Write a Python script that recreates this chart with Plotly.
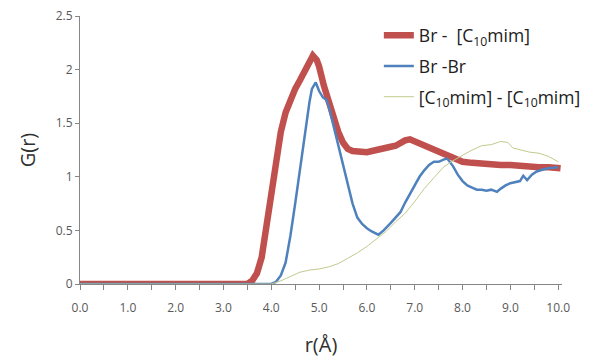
import plotly.graph_objects as go

# Br - [C10mim]
r_red = [0.0, 3.5, 3.6, 3.7, 3.8, 3.9, 4.0, 4.1, 4.2, 4.3, 4.4, 4.5, 4.6, 4.7, 4.8, 4.87,
         4.95, 5.0, 5.1, 5.2, 5.3, 5.4, 5.5, 5.6, 5.7, 5.8, 6.0, 6.2, 6.4, 6.5, 6.6, 6.7,
         6.8, 6.9, 7.0, 7.1, 7.2, 7.4, 7.6, 7.8, 8.0, 8.2, 8.4, 8.6, 8.8, 9.0, 9.2, 9.4,
         9.6, 9.8, 10.0, 10.05]
g_red = [0, 0, 0.03, 0.1, 0.25, 0.55, 0.92, 1.2, 1.42, 1.6, 1.72, 1.82, 1.9, 1.98, 2.07, 2.13,
         2.09, 2.03, 1.85, 1.7, 1.55, 1.42, 1.32, 1.26, 1.24, 1.24, 1.23, 1.25, 1.26, 1.28, 1.29, 1.32,
         1.34, 1.35, 1.33, 1.31, 1.29, 1.25, 1.21, 1.17, 1.14, 1.13, 1.12, 1.12, 1.11, 1.11, 1.10, 1.10,
         1.09, 1.09, 1.08, 1.08]

# Br - Br
r_blue = [0.0, 4.0, 4.1, 4.2, 4.3, 4.4, 4.5, 4.6, 4.7, 4.8, 4.85, 4.93, 5.0, 5.08, 5.15, 5.2,
          5.3, 5.4, 5.5, 5.6, 5.7, 5.8, 5.9, 6.0, 6.1, 6.24, 6.35, 6.5, 6.6, 6.7, 6.8, 6.9,
          7.0, 7.1, 7.2, 7.3, 7.4, 7.5, 7.6, 7.68, 7.8, 7.9, 8.0, 8.1, 8.2, 8.3, 8.4, 8.5,
          8.6, 8.72, 8.8, 8.9, 9.0, 9.1, 9.2, 9.27, 9.35, 9.45, 9.55, 9.7, 9.8, 10.0]
g_blue = [0, 0, 0.02, 0.08, 0.2, 0.45, 0.75, 1.08, 1.4, 1.7, 1.82, 1.88, 1.8, 1.74, 1.72, 1.66,
          1.48, 1.3, 1.12, 0.95, 0.75, 0.62, 0.56, 0.52, 0.49, 0.46, 0.5, 0.57, 0.62, 0.67, 0.76, 0.84,
          0.92, 1.0, 1.06, 1.11, 1.14, 1.14, 1.16, 1.17, 1.1, 1.02, 0.96, 0.92, 0.9, 0.88, 0.88, 0.87,
          0.88, 0.86, 0.89, 0.92, 0.94, 0.95, 0.96, 1.01, 0.97, 1.02, 1.05, 1.07, 1.08, 1.09]

# [C10mim] - [C10mim]
r_olive = [0.0, 4.0, 4.2, 4.4, 4.6, 4.8, 5.0, 5.2, 5.4, 5.6, 5.8, 6.0, 6.2, 6.4, 6.6, 6.8,
           7.0, 7.2, 7.4, 7.6, 7.8, 8.0, 8.2, 8.4, 8.6, 8.8, 8.95, 9.05, 9.2, 9.4, 9.6, 9.8, 10.0]
g_olive = [0, 0, 0.03, 0.07, 0.11, 0.13, 0.14, 0.16, 0.19, 0.24, 0.29, 0.35, 0.42, 0.49, 0.58, 0.66,
           0.77, 0.89, 0.99, 1.09, 1.15, 1.2, 1.25, 1.29, 1.3, 1.33, 1.32, 1.27, 1.25, 1.23, 1.22, 1.19, 1.14]

names = ["Br -  [C<sub>10</sub>mim]", "Br -Br", "[C<sub>10</sub>mim] - [C<sub>10</sub>mim]"]
y_tickvals = [0, 0.5, 1, 1.5, 2, 2.5]
y_ticktext = ["0", "0.5", "1", "1.5", "2", "2.5"]

fig = go.Figure()
fig.add_trace(go.Scatter(x=r_red, y=g_red, mode="lines", name=names[0], legendgroup="a",
                         line=dict(color="#C0504D", width=6.5)))
fig.add_trace(go.Scatter(x=r_blue, y=g_blue, mode="lines", name=names[1], legendgroup="b",
                         line=dict(color="#4F81BD", width=2.5)))
fig.add_trace(go.Scatter(x=r_olive, y=g_olive, mode="lines", name=names[2], legendgroup="c",
                         line=dict(color="#C4C98E", width=1)))

font_family = "Open Sans, Noto Sans, sans-serif"
fig.update_layout(
    width=591, height=354,
    margin=dict(l=72, r=37, t=8, b=78),
    paper_bgcolor="white", plot_bgcolor="white",
    font=dict(family=font_family, color="#404040"),
    showlegend=True,
    legend=dict(x=0.62, y=0.995, xanchor="left", yanchor="top",
                font=dict(size=17.5, color="#202020"),
                bgcolor="rgba(0,0,0,0)", tracegroupgap=5, traceorder="grouped"),
    xaxis=dict(range=[0, 10.08], dtick=1, tick0=0, tickformat=".1f",
               showgrid=False, zeroline=False, showline=True, linecolor="#868686",
               ticks="outside", ticklen=5, tickcolor="#868686",
               minor=dict(dtick=0.5, tick0=0, ticks="outside", ticklen=5,
                          tickcolor="#868686", showgrid=False),
               ticklabelstandoff=8,
               tickfont=dict(size=12, color="#595959"),
               title=dict(text="r(Å)", font=dict(size=20, color="#303030"), standoff=22)),
    yaxis=dict(range=[0, 2.5], tickvals=y_tickvals, ticktext=y_ticktext,
               ticklabeloverflow="allow", automargin="left",
               showgrid=False, zeroline=False, showline=True, linecolor="#868686",
               ticks="outside", ticklen=4, tickcolor="#868686",
               tickfont=dict(size=12, color="#595959"),
               title=dict(text="G(r)", font=dict(size=20, color="#303030"), standoff=14)),
)

fig.write_html("out.html")
